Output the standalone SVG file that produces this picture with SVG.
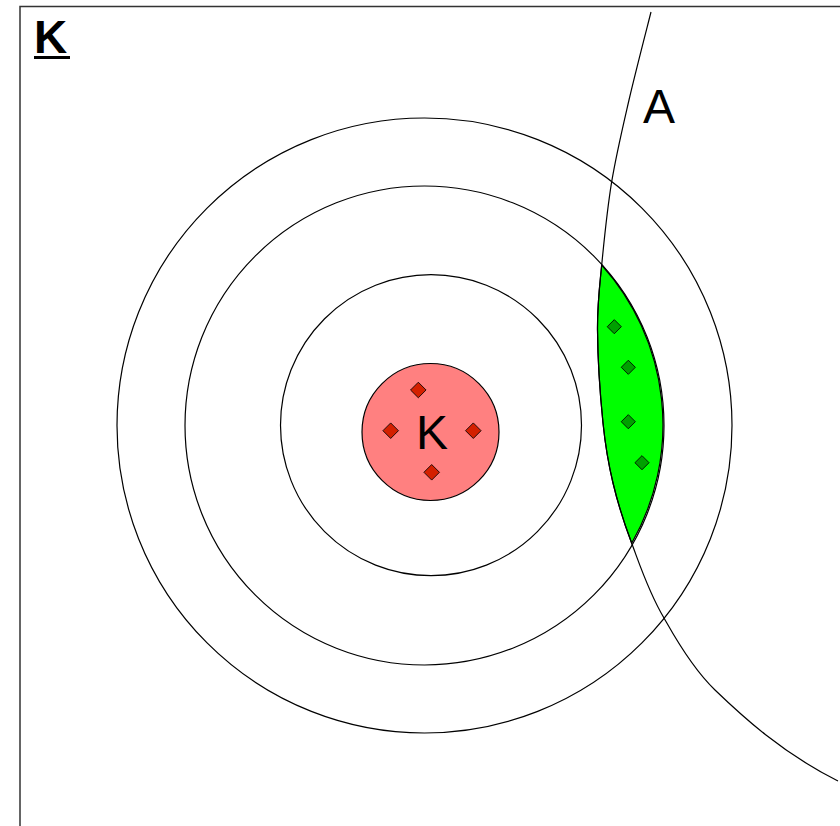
<svg xmlns="http://www.w3.org/2000/svg" width="840" height="826" viewBox="0 0 840 826">
<style>
.ring{fill:none;stroke:#000;stroke-width:1.2}
.lbl{font-family:"Liberation Sans",Arial,sans-serif;fill:#000}
.rd{fill:#d42000;stroke:#000;stroke-width:0.8}
.gd{fill:#00a000;stroke:#000;stroke-width:0.8}
</style>
<rect width="840" height="826" fill="#fff"/>
<g id="frame">
<polyline points="20,826 20,6.5 840,6.5" fill="none" stroke="#333" stroke-width="1.5"/>
<text class="lbl" x="34" y="53" font-size="46" font-weight="bold">K</text>
<line x1="34" y1="57.5" x2="70" y2="57.5" stroke="#000" stroke-width="3"/>
</g>
<g id="rings">
<circle id="ring-outer" class="ring" cx="424.5" cy="425.5" r="307.5"/>
<circle id="ring-3" class="ring" cx="424.5" cy="425.5" r="239.5"/>
<circle id="ring-2" class="ring" cx="431" cy="425.2" r="150.5"/>
</g>
<g id="overlap">
<path d="M601.7,265 C599.3,289.7 597.3,303.7 597.5,330 C597.7,356.3 600.4,397.5 603,423 C605.6,448.5 608.2,462.9 613,483 C617.8,503.1 623.2,520.8 631.7,543.3 A239.5,239.5 0 0 0 601.7,265 Z" fill="#00ff00" stroke="#000" stroke-width="1.2"/>
<rect class="gd" x="-5" y="-5" width="10" height="10" transform="translate(614.3,326.7) rotate(45)"/>
<rect class="gd" x="-5" y="-5" width="10" height="10" transform="translate(628.3,367.3) rotate(45)"/>
<rect class="gd" x="-5" y="-5" width="10" height="10" transform="translate(628.3,421.7) rotate(45)"/>
<rect class="gd" x="-5" y="-5" width="10" height="10" transform="translate(642,462.7) rotate(45)"/>
</g>
<g id="connectors">
<path id="arc-A" d="M651,12 C647.3,26.7 635.6,71.7 629,100 C622.5,128.3 616.3,154.2 611.7,181.7 C607.2,209.2 604.1,240.3 601.7,265 C599.3,289.7 597.3,303.7 597.5,330 C597.7,356.3 600.4,397.5 603,423 C605.6,448.5 608.2,462.9 613,483 C617.8,503.1 623.2,520.8 631.7,543.3 C640.2,565.8 648.5,591.9 664,618 C672,632 690,666 715,690 C742,716 782,753 838,781" fill="none" stroke="#000" stroke-width="1.2"/>
</g>
<g id="node-A">
<text class="lbl" x="659" y="123" font-size="48" text-anchor="middle">A</text>
</g>
<g id="node-K">
<circle cx="430.5" cy="432" r="68.5" fill="#ff8080" stroke="#000" stroke-width="1.2"/>
<text class="lbl" x="432" y="449" font-size="48" text-anchor="middle">K</text>
<rect class="rd" x="-5.5" y="-5.5" width="11" height="11" transform="translate(418.3,390) rotate(45)"/>
<rect class="rd" x="-5.5" y="-5.5" width="11" height="11" transform="translate(390.7,430.7) rotate(45)"/>
<rect class="rd" x="-5.5" y="-5.5" width="11" height="11" transform="translate(473.3,430.7) rotate(45)"/>
<rect class="rd" x="-5.5" y="-5.5" width="11" height="11" transform="translate(431.7,472.3) rotate(45)"/>
</g>
</svg>
